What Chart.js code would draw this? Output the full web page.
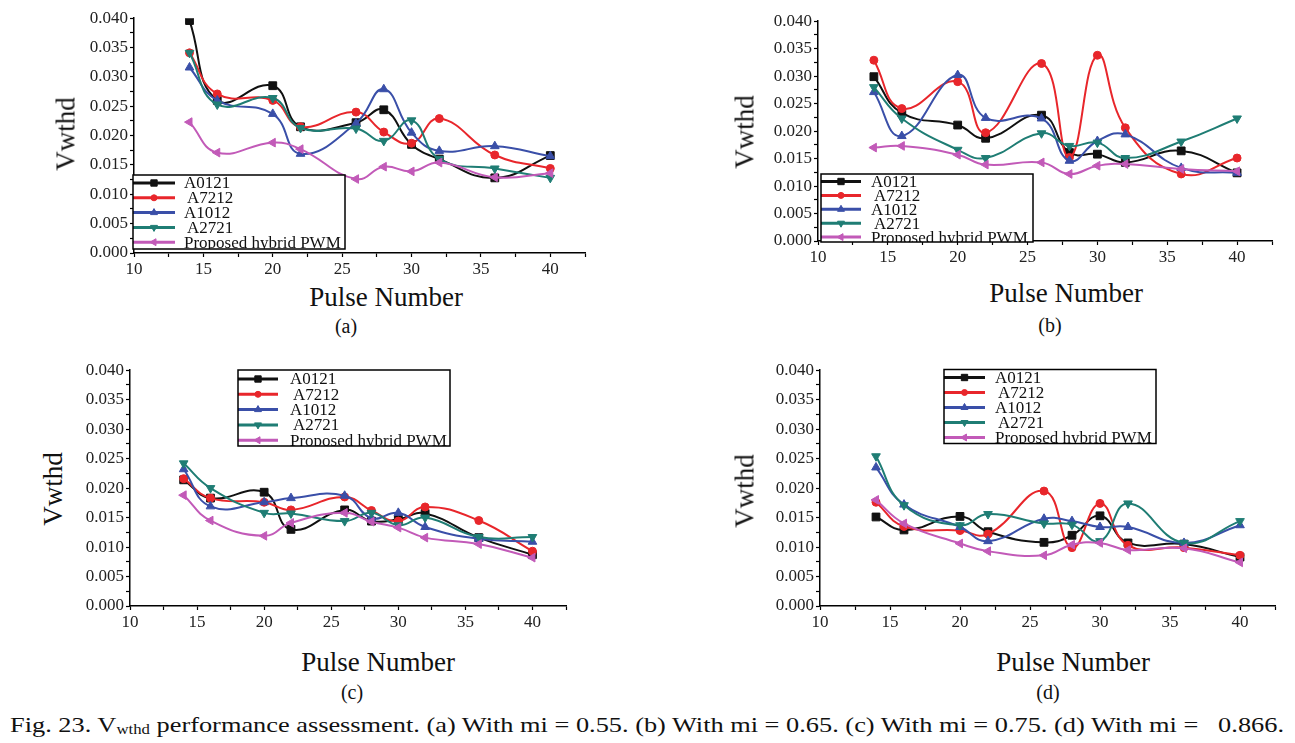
<!DOCTYPE html>
<html>
<head>
<meta charset="utf-8">
<script src="https://cdn.jsdelivr.net/npm/chart.js@4.4.1/dist/chart.umd.min.js"></script>
<style>
  body { margin: 0; background: #fff; }
  #fig { position: relative; width: 1295px; height: 743px; overflow: hidden; font-family: "Liberation Serif", "Times New Roman", serif; color: #111; }
  #fig canvas { position: absolute; }
  .ytitle { position: absolute; font-size: 27px; transform: translate(-50%, -50%) rotate(-90deg); white-space: nowrap; }
  .xtitle { position: absolute; font-size: 27px; transform: translate(-50%, -50%); white-space: nowrap; }
  .sub { position: absolute; font-size: 20px; transform: translate(-50%, -50%); }
  #caption { position: absolute; left: 10px; top: 712px; font-size: 22px; white-space: nowrap; transform-origin: left top; }
  #caption sub { font-size: 14px; vertical-align: -2px; }
</style>
</head>
<body>
<div id="fig">
  <div id="caption">Fig. 23. V<sub>wthd</sub> performance assessment. (a) With mi = 0.55. (b) With mi = 0.65. (c) With mi = 0.75. (d) With mi = &nbsp;&nbsp;0.866.</div>
</div>
<script>
// data
const pulseNumbers = [14, 16, 20, 22, 26, 28, 30, 32, 36, 40];
const seriesNames = ['A0121', 'A7212', 'A1012', 'A2721', 'Proposed hybrid PWM'];
const xTickLabels = [10, 15, 20, 25, 30, 35, 40];
const yTickLabels = ['0.000', '0.005', '0.010', '0.015', '0.020', '0.025', '0.030', '0.035', '0.040'];
const panelLetters = ['(a)', '(b)', '(c)', '(d)'];

// rows: A0121, A7212, A1012, A2721, Proposed hybrid PWM
const vwthdMi055 = [
  [0.0396, 0.0260, 0.0285, 0.0215, 0.0222, 0.0244, 0.0185, 0.0160, 0.0128, 0.0166],
  [0.0341, 0.0271, 0.0260, 0.0215, 0.0240, 0.0206, 0.0187, 0.0229, 0.0167, 0.0144],
  [0.0316, 0.0260, 0.0237, 0.0169, 0.0221, 0.0279, 0.0205, 0.0174, 0.0182, 0.0165],
  [0.0341, 0.0253, 0.0264, 0.0213, 0.0212, 0.0191, 0.0226, 0.0160, 0.0144, 0.0128],
  [0.0223, 0.0171, 0.0188, 0.0177, 0.0126, 0.0147, 0.0139, 0.0154, 0.0129, 0.0136]
];
const vwthdMi065 = [
  [0.0299, 0.0233, 0.0211, 0.0187, 0.0229, 0.0161, 0.0158, 0.0143, 0.0164, 0.0124],
  [0.0329, 0.0241, 0.0290, 0.0197, 0.0323, 0.0152, 0.0338, 0.0206, 0.0122, 0.0151],
  [0.0271, 0.0191, 0.0302, 0.0224, 0.0223, 0.0146, 0.0182, 0.0194, 0.0133, 0.0124],
  [0.0280, 0.0223, 0.0166, 0.0151, 0.0196, 0.0173, 0.0179, 0.0151, 0.0181, 0.0223],
  [0.0170, 0.0173, 0.0157, 0.0139, 0.0143, 0.0122, 0.0137, 0.0140, 0.0131, 0.0127]
];
const vwthdMi075 = [
  [0.0214, 0.0183, 0.0193, 0.0130, 0.0163, 0.0144, 0.0147, 0.0157, 0.0116, 0.0087],
  [0.0216, 0.0183, 0.0176, 0.0163, 0.0185, 0.0162, 0.0144, 0.0168, 0.0145, 0.0093],
  [0.0232, 0.0169, 0.0176, 0.0183, 0.0187, 0.0149, 0.0158, 0.0134, 0.0114, 0.0109],
  [0.0242, 0.0200, 0.0158, 0.0157, 0.0144, 0.0158, 0.0137, 0.0150, 0.0117, 0.0117],
  [0.0188, 0.0145, 0.0119, 0.0141, 0.0158, 0.0143, 0.0133, 0.0116, 0.0105, 0.0082]
];
const vwthdMi0866 = [
  [0.0151, 0.0129, 0.0152, 0.0126, 0.0108, 0.0120, 0.0153, 0.0107, 0.0105, 0.0083],
  [0.0176, 0.0135, 0.0128, 0.0122, 0.0195, 0.0099, 0.0174, 0.0103, 0.0099, 0.0086],
  [0.0235, 0.0172, 0.0134, 0.0110, 0.0148, 0.0144, 0.0134, 0.0134, 0.0107, 0.0137],
  [0.0254, 0.0171, 0.0137, 0.0156, 0.0140, 0.0138, 0.0110, 0.0174, 0.0107, 0.0144],
  [0.0180, 0.0140, 0.0106, 0.0093, 0.0086, 0.0104, 0.0107, 0.0095, 0.0098, 0.0074]
];

// styles
const seriesColors = ['#111111', '#e8262b', '#3a4fa8', '#1f7d74', '#c25ab8'];
const seriesPointStyles = ['rect', 'circle', 'triangle', 'triangle', 'triangle'];
const seriesRotations = [0, 0, 0, 180, -90];
const seriesRadius = [5.5, 4, 5, 5, 5];
const legendIndent = [0, 3, 0, 3, 0];

// layout of each panel (page pixels)
const panels = [
  { data: vwthdMi055, canvas: [74, 6, 519, 275],
    legend: { x: 59, y: 169, w: 212, h: 74, first: 8, dy: 14.8, sample: 42, textX: 110 },
    ytitle: [66, 134], xtitle: [386, 297], letter: [346, 326] },
  { data: vwthdMi065, canvas: [758, 9, 522, 260],
    legend: { x: 63, y: 165, w: 212, h: 68, first: 7.5, dy: 13.9, sample: 40, textX: 113 },
    ytitle: [745, 132], xtitle: [1066, 293], letter: [1050, 325] },
  { data: vwthdMi075, canvas: [70, 358, 504, 276],
    legend: { x: 168, y: 12, w: 212, h: 76, first: 9, dy: 15.3, sample: 40, textX: 220 },
    ytitle: [53, 489], xtitle: [378, 662], letter: [352, 692] },
  { data: vwthdMi0866, canvas: [760, 358, 523, 276],
    legend: { x: 184, y: 11.5, w: 212, h: 74, first: 8, dy: 15, sample: 41, textX: 235 },
    ytitle: [745, 491], xtitle: [1073, 662], letter: [1048, 692] }
];

const fig = document.getElementById('fig');

// legend drawn as a white box on top of the plot, like the original
const boxLegend = {
  id: 'boxLegend',
  afterDatasetsDraw(chart, args, opts) {
    const ctx = chart.ctx;
    ctx.save();
    ctx.fillStyle = '#fff';
    ctx.fillRect(opts.x, opts.y, opts.w, opts.h);
    ctx.beginPath();
    ctx.rect(opts.x, opts.y, opts.w, opts.h);
    ctx.clip();
    chart.data.datasets.forEach((ds, i) => {
      const yy = opts.y + opts.first + i * opts.dy;
      ctx.strokeStyle = ds.borderColor;
      ctx.fillStyle = ds.borderColor;
      ctx.lineWidth = 3;
      ctx.beginPath();
      ctx.moveTo(opts.x, yy);
      ctx.lineTo(opts.x + opts.sample, yy);
      ctx.stroke();
      ctx.lineWidth = 1;
      Chart.helpers.drawPoint(ctx, {
        pointStyle: ds.pointStyle, rotation: ds.pointRotation, radius: ds.pointRadius - 1, borderWidth: 1
      }, opts.x + opts.sample / 2, yy);
      ctx.fillStyle = '#111';
      ctx.font = '17px "Liberation Serif"';
      ctx.textBaseline = 'middle';
      ctx.fillText(ds.label, opts.textX + legendIndent[i], yy + 1);
    });
    ctx.restore();
    ctx.save();
    ctx.strokeStyle = '#000';
    ctx.lineWidth = 1.5;
    ctx.strokeRect(opts.x, opts.y, opts.w, opts.h);
    ctx.restore();
  }
};

function addText(cls, text, pos) {
  const d = document.createElement('div');
  d.className = cls;
  d.textContent = text;
  d.style.left = pos[0] + 'px';
  d.style.top = pos[1] + 'px';
  fig.appendChild(d);
}

panels.forEach((p, k) => {
  const cv = document.createElement('canvas');
  cv.width = p.canvas[2];
  cv.height = p.canvas[3];
  cv.style.left = p.canvas[0] + 'px';
  cv.style.top = p.canvas[1] + 'px';
  fig.appendChild(cv);

  const datasets = seriesNames.map((name, i) => ({
    label: name,
    data: pulseNumbers.map((x, j) => ({ x: x, y: p.data[i][j] })),
    borderColor: seriesColors[i],
    backgroundColor: seriesColors[i],
    borderWidth: 2,
    pointStyle: seriesPointStyles[i],
    pointRotation: seriesRotations[i],
    pointRadius: seriesRadius[i],
    pointBorderWidth: 1,
    tension: 0.45,
    order: seriesNames.length - i
  }));

  new Chart(cv.getContext('2d'), {
    type: 'line',
    data: { datasets: datasets },
    plugins: [boxLegend],
    options: {
      responsive: false,
      animation: false,
      layout: { padding: { top: 10, right: 8, left: 0, bottom: 0 } },
      plugins: {
        legend: { display: false },
        tooltip: { enabled: false },
        boxLegend: p.legend
      },
      scales: {
        x: {
          type: 'linear', min: 10, max: 42.5,
          afterFit: s => { s.height = 28; },
          border: { display: true, color: '#000', width: 1.5 },
          grid: { drawOnChartArea: false, drawTicks: true, tickLength: 4, tickColor: '#000', tickWidth: 1.2 },
          ticks: {
            stepSize: 2.5, autoSkip: false, maxRotation: 0, padding: 2,
            color: '#222', font: { family: 'Liberation Serif', size: 17 },
            callback: v => xTickLabels.includes(v) ? String(v) : ''
          }
        },
        y: {
          min: 0, max: 0.04,
          afterFit: s => { s.width = 60; },
          border: { display: true, color: '#000', width: 1.5 },
          grid: { drawOnChartArea: false, drawTicks: true, tickLength: 4, tickColor: '#000', tickWidth: 1.2 },
          ticks: {
            stepSize: 0.0025, autoSkip: false, padding: 2,
            color: '#222', font: { family: 'Liberation Serif', size: 17 },
            callback: v => {
              const i = Math.round(v / 0.005);
              return Math.abs(v - i * 0.005) < 1e-9 ? yTickLabels[i] : '';
            }
          }
        }
      }
    }
  });

  addText('ytitle', 'Vwthd', p.ytitle);
  addText('xtitle', 'Pulse Number', p.xtitle);
  addText('sub', panelLetters[k], p.letter);
});

// stretch caption to the width it has in the figure
const cap = document.getElementById('caption');
cap.style.transform = 'scaleX(' + (1274 / cap.getBoundingClientRect().width) + ')';
</script>
</body>
</html>
